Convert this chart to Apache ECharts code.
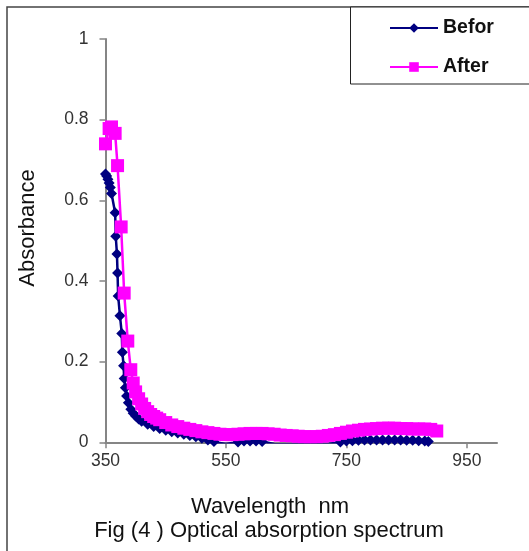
<!DOCTYPE html>
<html>
<head>
<meta charset="utf-8">
<script src="https://cdn.jsdelivr.net/npm/echarts@6/dist/echarts.min.js"></script>
<style>html,body{margin:0;padding:0;background:#fff}#c{width:529px;height:551px}</style>
</head>
<body>
<div id="c"></div>
<script>
// ---- data ----
var xTickLabels = [350, 550, 750, 950];
var seriesNames = ['Befor', 'After'];

var beforWl = [350,352,354,356,358,360,366,367,369,370,371,374,377,378,380,381,383,385,388,392,396,400,405,410,420,430,440,450,460,470,480,490,500,510,520,530,540,550,560,570,580,590,600,610,620,630,640,650,660,670,680,690,700,710,720,730,740,750,760,770,780,790,800,810,820,830,840,850,860,870,880,886];
var beforAbs = [0.665,0.66,0.652,0.643,0.632,0.617,0.569,0.511,0.467,0.42,0.363,0.314,0.27,0.223,0.19,0.158,0.135,0.115,0.098,0.082,0.072,0.065,0.058,0.052,0.045,0.039,0.034,0.03,0.026,0.023,0.02,0.017,0.014,0.01,0.006,0.002,-0.002,-0.004,-0.002,0.001,0.003,0.003,0.003,0.002,-0.001,-0.004,-0.005,-0.005,-0.005,-0.005,-0.005,-0.005,-0.005,-0.005,-0.004,-0.002,0.001,0.003,0.004,0.005,0.006,0.006,0.006,0.006,0.006,0.006,0.006,0.005,0.005,0.004,0.003,0.002];

var afterWl = [350,356,360,366,370,376,381,387,392,396,400,405,410,415,420,425,430,435,440,450,460,470,480,490,500,510,520,530,540,550,560,570,580,590,600,610,620,630,640,650,660,670,680,690,700,710,720,730,740,750,760,770,780,790,800,810,820,830,840,850,860,870,880,890,900];
var afterAbs = [0.74,0.778,0.782,0.766,0.686,0.534,0.37,0.251,0.18,0.147,0.125,0.108,0.095,0.084,0.076,0.069,0.064,0.06,0.056,0.049,0.043,0.039,0.035,0.032,0.029,0.026,0.024,0.022,0.02,0.019,0.019,0.02,0.021,0.022,0.022,0.022,0.021,0.02,0.018,0.017,0.016,0.015,0.014,0.014,0.014,0.015,0.017,0.019,0.022,0.025,0.028,0.03,0.032,0.033,0.034,0.035,0.035,0.035,0.034,0.034,0.033,0.033,0.033,0.032,0.028];

function zip(a, b) { var r = []; for (var i = 0; i < Math.min(a.length, b.length); i++) r.push([a[i], b[i]]); return r; }

var FONT = 'Liberation Sans, Arial, sans-serif';
var chart = echarts.init(document.getElementById('c'), null, {renderer: 'canvas'});
chart.setOption({
  animation: false,
  textStyle: {fontFamily: FONT},
  grid: {left: 105.5, right: 32, top: 39, bottom: 108.7, containLabel: false},
  xAxis: {
    type: 'value', min: 350, max: 1000,
    axisLine: {lineStyle: {color: '#858585', width: 2}},
    axisTick: {show: true, length: 6, lineStyle: {color: '#858585', width: 1.5}, customValues: xTickLabels},
    axisLabel: {color: '#333', fontSize: 17.5, margin: 10, fontFamily: FONT, customValues: xTickLabels},
    splitLine: {show: false}
  },
  yAxis: {
    type: 'value', min: 0, max: 1, interval: 0.2,
    axisLine: {show: true, lineStyle: {color: '#858585', width: 2}},
    axisTick: {show: true, length: 6, lineStyle: {color: '#858585', width: 1.5}},
    axisLabel: {color: '#333', fontSize: 17.5, margin: 17, fontFamily: FONT},
    splitLine: {show: false}
  },
  legend: {
    orient: 'vertical', left: 389, top: 18, padding: 0, itemGap: 19,
    itemWidth: 48, itemHeight: 12,
    textStyle: {fontSize: 19.5, fontWeight: 'bold', color: '#111', fontFamily: FONT},
    data: seriesNames
  },
  graphic: [
    {type: 'rect', shape: {x: 7, y: 7, width: 560, height: 600}, style: {fill: 'none', stroke: '#444', lineWidth: 1.5}, silent: true, z: -10},
    {type: 'rect', shape: {x: 350.5, y: 7, width: 200, height: 77}, style: {fill: '#fff', stroke: '#222', lineWidth: 1}, silent: true, z: -5},
    {type: 'text', x: 28, y: 228, rotation: Math.PI / 2, style: {text: 'Absorbance', font: '22px ' + FONT, fill: '#111', textAlign: 'center', textVerticalAlign: 'middle'}},
    {type: 'text', x: 270, y: 507, style: {text: 'Wavelength  nm', font: '22px ' + FONT, fill: '#111', textAlign: 'center', textVerticalAlign: 'middle'}},
    {type: 'text', x: 269, y: 531, style: {text: 'Fig (4 ) Optical absorption spectrum', font: '22px ' + FONT, fill: '#111', textAlign: 'center', textVerticalAlign: 'middle'}}
  ],
  series: [
    {
      name: seriesNames[0], type: 'line', data: zip(beforWl, beforAbs),
      symbol: 'diamond', symbolSize: [11, 11], showAllSymbol: true,
      lineStyle: {color: '#000080', width: 2.5}, itemStyle: {color: '#000080'},
      clip: true, z: 2
    },
    {
      name: seriesNames[1], type: 'line', data: zip(afterWl, afterAbs),
      symbol: 'rect', symbolSize: 13, showAllSymbol: true,
      lineStyle: {color: '#FF00FF', width: 2.5}, itemStyle: {color: '#FF00FF'},
      clip: true, z: 3
    }
  ]
});
</script>
</body>
</html>
